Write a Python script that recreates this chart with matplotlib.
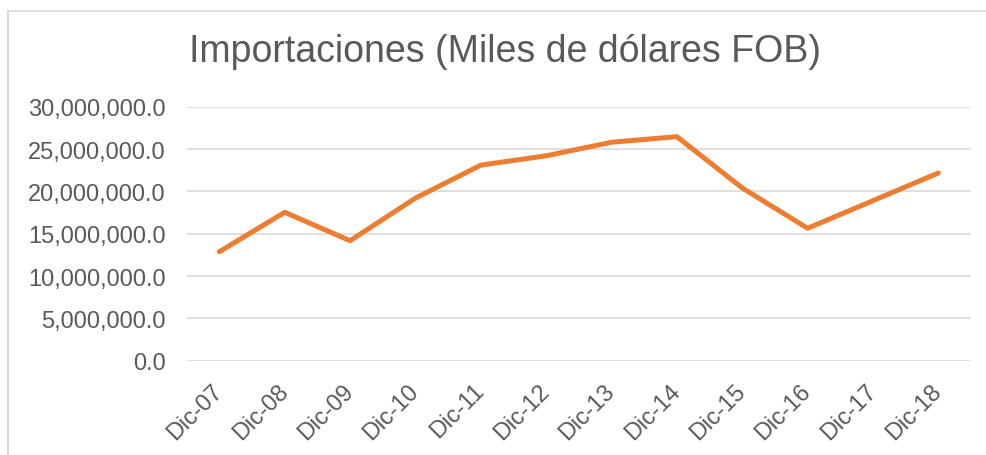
import matplotlib
matplotlib.use("Agg")
import matplotlib.pyplot as plt
from matplotlib.lines import Line2D
from matplotlib.ticker import FuncFormatter, MultipleLocator

periodos = ["Dic-07", "Dic-08", "Dic-09", "Dic-10", "Dic-11", "Dic-12",
            "Dic-13", "Dic-14", "Dic-15", "Dic-16", "Dic-17", "Dic-18"]
importaciones = [12870000, 17530000, 14170000, 19200000, 23100000, 24200000,
                 25800000, 26460000, 20400000, 15640000, 18900000, 22170000]

plt.rcParams["font.family"] = ["Liberation Sans", "DejaVu Sans"]
gris = "#595959"

fig = plt.figure(figsize=(9.87, 4.56), dpi=100)
ax = fig.add_axes([186.7 / 987, 1 - 361.7 / 456, (971 - 186.7) / 987, (361.7 - 107.7) / 456])

x = list(range(len(periodos)))
ax.plot(x, importaciones, color="#ED7D31", lw=3.6, solid_capstyle="round", solid_joinstyle="round")

ax.set_xlim(-0.5, len(periodos) - 0.5)
ax.set_ylim(0, 30000000)
ax.yaxis.set_major_locator(MultipleLocator(5000000))
ax.yaxis.set_major_formatter(FuncFormatter(lambda v, p: f"{v:,.1f}"))
ax.grid(axis="y", color="#D9D9D9", lw=1.2)
ax.set_axisbelow(True)
for s in ax.spines.values():
    s.set_visible(False)

ax.set_xticks(x)
ax.set_xticklabels(periodos, rotation=45, ha="right", va="center", rotation_mode="anchor")
ax.tick_params(axis="y", length=0, pad=15, labelsize=17, labelcolor=gris)
ax.tick_params(axis="x", length=0, pad=19, labelsize=17, labelcolor=gris)

fig.text(505 / 987, 1 - 52 / 456, "Importaciones (Miles de dólares FOB)",
         ha="center", va="center", fontsize=27, color=gris)

# borde del área del gráfico
fig.add_artist(Line2D([8.5 / 987, 8.5 / 987], [0, 1 - 12 / 456], color="#D9D9D9", lw=1.5))
fig.add_artist(Line2D([8.5 / 987, 1], [1 - 12 / 456, 1 - 12 / 456], color="#D9D9D9", lw=1.2))

plt.savefig("out.png", dpi=100)
